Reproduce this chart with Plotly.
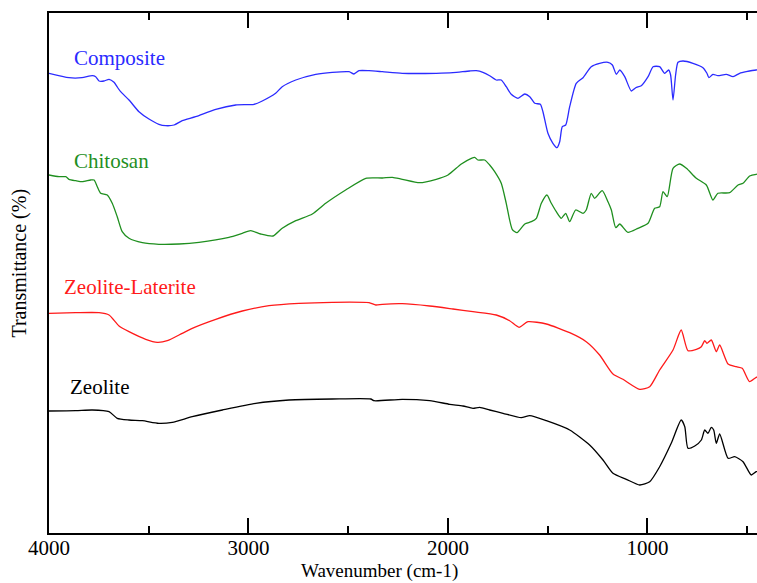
import plotly.graph_objects as go

# Wavenumber (cm-1) and transmittance (arbitrary units, offset-stacked)
comp_wn = [4000, 3900, 3835, 3783, 3766, 3749, 3724, 3699, 3674, 3659, 3641, 3599, 3549, 3499, 3449, 3415, 3373, 3332, 3265, 3164, 3064, 2972, 2931, 2864, 2831, 2763, 2663, 2580, 2496, 2471, 2446, 2396, 2329, 2229, 2059, 1975, 1891, 1858, 1825, 1791, 1758, 1733, 1708, 1683, 1649, 1615, 1590, 1565, 1537, 1524, 1499, 1474, 1454, 1440, 1427, 1410, 1390, 1357, 1323, 1282, 1240, 1198, 1176, 1156, 1139, 1114, 1081, 1059, 1031, 997, 972, 939, 914, 894, 884, 872, 859, 847, 822, 772, 722, 702, 692, 672, 647, 605, 571, 538, 505, 455, 400]
comp_t = [459.7, 455.3, 455.3, 457.3, 456.3, 452, 452, 453.7, 450.7, 446.3, 441.3, 433, 421.3, 414, 408.7, 407.3, 408, 412.3, 416.3, 423.7, 428, 428.7, 432, 439.7, 446.3, 453, 458.7, 460.7, 461.3, 459, 462.3, 462.3, 461.3, 459.7, 459.7, 460.3, 462, 462.3, 460.7, 457.3, 453, 453, 446.3, 438.7, 434.7, 439, 436.3, 429.7, 428.7, 421.3, 399.7, 389.7, 385.3, 391.3, 406.3, 408, 426.3, 449.7, 455.3, 466.3, 469.7, 470.7, 468, 458.7, 463, 456.3, 442, 445.3, 447.3, 456.3, 466.3, 466.3, 459.7, 463, 458, 433, 458, 470.7, 472, 469.7, 465.3, 459.7, 455.3, 458.7, 457.3, 458.7, 456.3, 459.7, 461.3, 463, 463]

chit_wn = [4000, 3950, 3916, 3900, 3866, 3833, 3791, 3774, 3758, 3741, 3708, 3683, 3658, 3633, 3599, 3532, 3449, 3348, 3248, 3098, 3031, 2989, 2939, 2877, 2831, 2763, 2680, 2613, 2513, 2412, 2329, 2279, 2229, 2142, 2059, 2000, 1933, 1883, 1866, 1850, 1816, 1791, 1766, 1733, 1708, 1678, 1654, 1615, 1582, 1557, 1532, 1504, 1482, 1457, 1432, 1410, 1390, 1360, 1323, 1307, 1282, 1265, 1227, 1198, 1181, 1159, 1139, 1098, 1048, 997, 964, 939, 922, 901, 872, 839, 805, 755, 705, 672, 647, 588, 546, 521, 488, 455, 400]
chit_t = [358, 356.3, 356.3, 353.7, 352.3, 351.3, 353, 353, 346.3, 339.7, 338, 329.7, 316.3, 301.3, 294.7, 290.3, 288.7, 289, 290.7, 295.7, 299.7, 302.3, 299, 297, 304.7, 312.3, 319, 329.7, 343, 354.7, 355, 355.7, 353.7, 350.3, 353.7, 358, 369, 374.7, 375.7, 373, 373, 368, 361.3, 349.7, 329.7, 303.7, 300.3, 309, 311.3, 314.7, 329.7, 338, 329.7, 321.3, 314.7, 319.7, 311.3, 323, 319.7, 323, 339.7, 334.7, 342.3, 331.3, 323, 305.3, 309, 300.7, 304.7, 309.7, 324.7, 326.3, 341.3, 336.3, 364.7, 369, 364.7, 354.7, 348, 333, 339.7, 340.3, 348, 349.7, 357, 358.7, 359]

zl_wn = [4000, 3866, 3749, 3699, 3649, 3599, 3515, 3457, 3407, 3332, 3282, 3164, 3031, 2897, 2747, 2580, 2396, 2362, 2329, 2229, 2092, 1975, 1875, 1758, 1691, 1644, 1599, 1507, 1390, 1307, 1240, 1173, 1123, 1039, 989, 939, 872, 831, 797, 755, 730, 713, 702, 680, 655, 638, 596, 555, 525, 488, 455, 400]
zl_t = [219.7, 220.3, 220.3, 218, 207, 201.3, 193.7, 190.7, 192.3, 199.7, 204.7, 213.7, 222, 227.3, 229.7, 230.7, 230.3, 228, 228.7, 229.3, 227, 224, 221.3, 218, 212.3, 205.7, 211.3, 209, 200.3, 191.3, 178, 159, 153.7, 143.7, 146.3, 163, 183, 203, 182.3, 183.7, 186.3, 192.3, 189.7, 193, 181.3, 188, 169, 166.3, 164.7, 151.3, 155.7, 160]

zeo_wn = [4000, 3866, 3783, 3699, 3658, 3599, 3532, 3449, 3382, 3282, 3131, 2964, 2797, 2580, 2387, 2371, 2229, 2092, 1991, 1925, 1875, 1841, 1791, 1724, 1633, 1590, 1507, 1390, 1290, 1223, 1173, 1106, 1039, 989, 939, 881, 831, 813, 797, 763, 730, 713, 697, 680, 668, 655, 638, 596, 563, 521, 480, 455, 400]
zeo_t = [122, 122.3, 123, 121.3, 114.7, 113, 112.3, 109.7, 110.7, 116.3, 123, 129.7, 133, 134, 134, 132.3, 133.7, 132.3, 128.7, 127, 124.7, 125.7, 123, 119.7, 115.3, 117.3, 112.3, 103, 88, 73, 59.7, 53.7, 48, 51.3, 66.3, 89.7, 113, 106.3, 84.7, 87, 93, 103, 99.7, 105.7, 103, 89.7, 99, 74.7, 76.3, 71.3, 58, 61.3, 65]

names = ["Composite", "Chitosan", "Zeolite-Laterite", "Zeolite"]
colors = ["#2b2bff", "#1f8f1f", "#ff1a1a", "#000000"]
label_wn = [3885, 3885, 3935, 3905]
label_t = [475, 372, 246, 146]
series = [(comp_wn, comp_t), (chit_wn, chit_t), (zl_wn, zl_t), (zeo_wn, zeo_t)]

FONT = "Liberation Serif"

fig = go.Figure()
for (wn, t), nm, c in zip(series, names, colors):
    fig.add_trace(go.Scatter(x=wn, y=t, mode="lines", name=nm,
                             line=dict(color=c, width=1.3, shape="spline", smoothing=0.6)))

for nm, c, lx, ly in zip(names, colors, label_wn, label_t):
    fig.add_annotation(x=lx, y=ly, text=nm, showarrow=False, xanchor="left", yanchor="middle",
                       font=dict(family=FONT, size=21, color=c))

fig.add_annotation(x=0.467, y=-0.097, xref="paper", yref="paper", text="Wavenumber (cm-1)",
                   showarrow=False, xanchor="center", yanchor="bottom", borderpad=0,
                   font=dict(family=FONT, size=19, color="black"))
fig.add_annotation(x=-0.041, y=0.52, xref="paper", yref="paper", text="Transmittance (%)",
                   showarrow=False, textangle=-90, xanchor="center", yanchor="middle",
                   font=dict(family=FONT, size=20, color="black"))

fig.update_layout(
    width=757, height=583,
    margin=dict(l=49, r=0, t=13, b=50),
    paper_bgcolor="white", plot_bgcolor="white",
    showlegend=False,
    font=dict(family=FONT, size=21, color="black"),
    xaxis=dict(range=[4000, 451], tickvals=[4000, 3000, 2000, 1000],
               ticks="inside", ticklen=15, tickwidth=2, tickcolor="black",
               showline=True, linecolor="black", linewidth=2, mirror="ticks",
               showgrid=False, zeroline=False, ticklabelstandoff=-5,
               tickfont=dict(family=FONT, size=21, color="black"),
               minor=dict(dtick=500, tick0=0, ticks="inside", ticklen=7, tickwidth=2,
                          tickcolor="black", showgrid=False)),
    yaxis=dict(range=[0, 520], showticklabels=False, ticks="", showline=True,
               linecolor="black", linewidth=2, showgrid=False, zeroline=False),
)

fig.write_html("out.html")
